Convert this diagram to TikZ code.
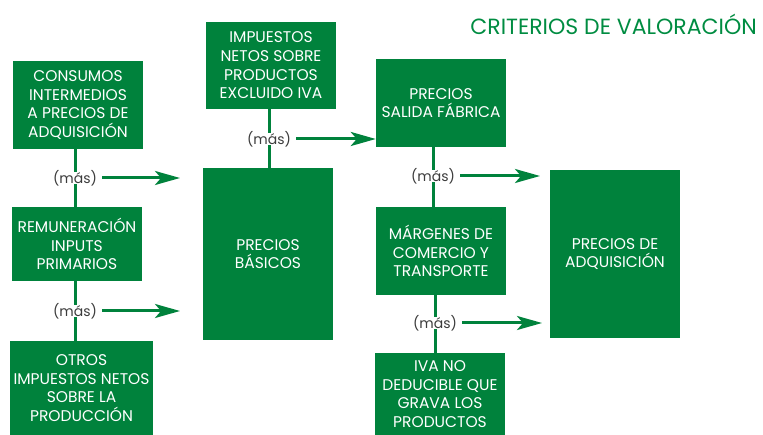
\documentclass[tikz,border=0pt]{standalone}
\usepackage{fontspec}
\setmainfont{Poppins}
\usetikzlibrary{arrows.meta}
\definecolor{boxgreen}{RGB}{0,130,60}
\definecolor{titlegreen}{RGB}{0,140,65}
\definecolor{labelgray}{RGB}{60,60,60}
\begin{document}
\begin{tikzpicture}[x=1pt,y=-1pt,
 box/.style={fill=boxgreen, text=white, align=center, inner sep=0pt, font=\fontsize{15.5}{18.7}\selectfont},
 plus/.style={text=labelgray, font=\fontsize{14}{16}\selectfont, inner sep=0pt},
 link/.style={draw=boxgreen, line width=3pt},
 flow/.style={link, -{Stealth[length=25pt,width=14pt,inset=6pt]}}]
\useasboundingbox (0,0) rectangle (763,435);
\node[anchor=east, text=titlegreen, font=\fontsize{22}{26}\selectfont, inner sep=0pt] (title) at (757,24) {CRITERIOS DE VALORACIÓN};

\node[box, minimum width=130pt, minimum height=88pt] (cons) at (78,105) {CONSUMOS\\INTERMEDIOS\\A PRECIOS DE\\ADQUISICIÓN};
\node[box, minimum width=130pt, minimum height=74pt] (rem) at (77,244) {REMUNERACIÓN\\INPUTS\\PRIMARIOS};
\node[box, minimum width=143pt, minimum height=94pt] (otros) at (81.5,388) {OTROS\\IMPUESTOS NETOS\\SOBRE LA\\PRODUCCIÓN};
\node[box, minimum width=130pt, minimum height=87pt] (imp) at (271,65.5) {IMPUESTOS\\NETOS SOBRE\\PRODUCTOS\\EXCLUIDO IVA};
\node[box, minimum width=130pt, minimum height=172pt] (bas) at (268,254) {PRECIOS\\BÁSICOS};
\node[box, minimum width=130pt, minimum height=88pt] (sal) at (441,103) {PRECIOS\\SALIDA FÁBRICA};
\node[box, minimum width=130pt, minimum height=88pt] (mar) at (441,251) {MÁRGENES DE\\COMERCIO Y\\TRANSPORTE};
\node[box, minimum width=130pt, minimum height=82pt] (iva) at (440,394) {IVA NO\\DEDUCIBLE QUE\\GRAVA LOS\\PRODUCTOS};
\node[box, minimum width=130pt, minimum height=168pt] (adq) at (615,254) {PRECIOS DE\\ADQUISICIÓN};

\node[plus] (m1) at (75,178) {(más)};
\node[plus] (m2) at (75,311) {(más)};
\node[plus] (m3) at (269,139) {(más)};
\node[plus] (m4) at (433,176) {(más)};
\node[plus] (m5) at (435,323) {(más)};

\coordinate (e1) at (180,178);
\coordinate (e2) at (180,311);
\coordinate (e4) at (540,176);
\coordinate (e5) at (542,323);

\draw[link] (cons.south -| m1) -- ([yshift=-2pt]m1.north);
\draw[link] ([yshift=2pt]m1.south) -- (rem.north -| m1);
\draw[link] (rem.south -| m2) -- ([yshift=-2pt]m2.north);
\draw[link] ([yshift=2pt]m2.south) -- (otros.north -| m2);
\draw[link] (imp.south -| m3) -- ([yshift=-2pt]m3.north);
\draw[link] ([yshift=2pt]m3.south) -- (bas.north -| m3);
\draw[link] (sal.south -| m4) -- ([yshift=-2pt]m4.north);
\draw[link] ([yshift=2pt]m4.south) -- (mar.north -| m4);
\draw[link] (mar.south -| m5) -- ([yshift=-2pt]m5.north);
\draw[link] ([yshift=2pt]m5.south) -- (iva.north -| m5);

\draw[flow] ([xshift=5pt]m1.east) -- (e1);
\draw[flow] ([xshift=5pt]m2.east) -- (e2);
\draw[flow] ([xshift=5pt]m3.east) -- (m3 -| sal.west);
\draw[flow] ([xshift=5pt]m4.east) -- (e4);
\draw[flow] ([xshift=5pt]m5.east) -- (e5);
\end{tikzpicture}
\end{document}
